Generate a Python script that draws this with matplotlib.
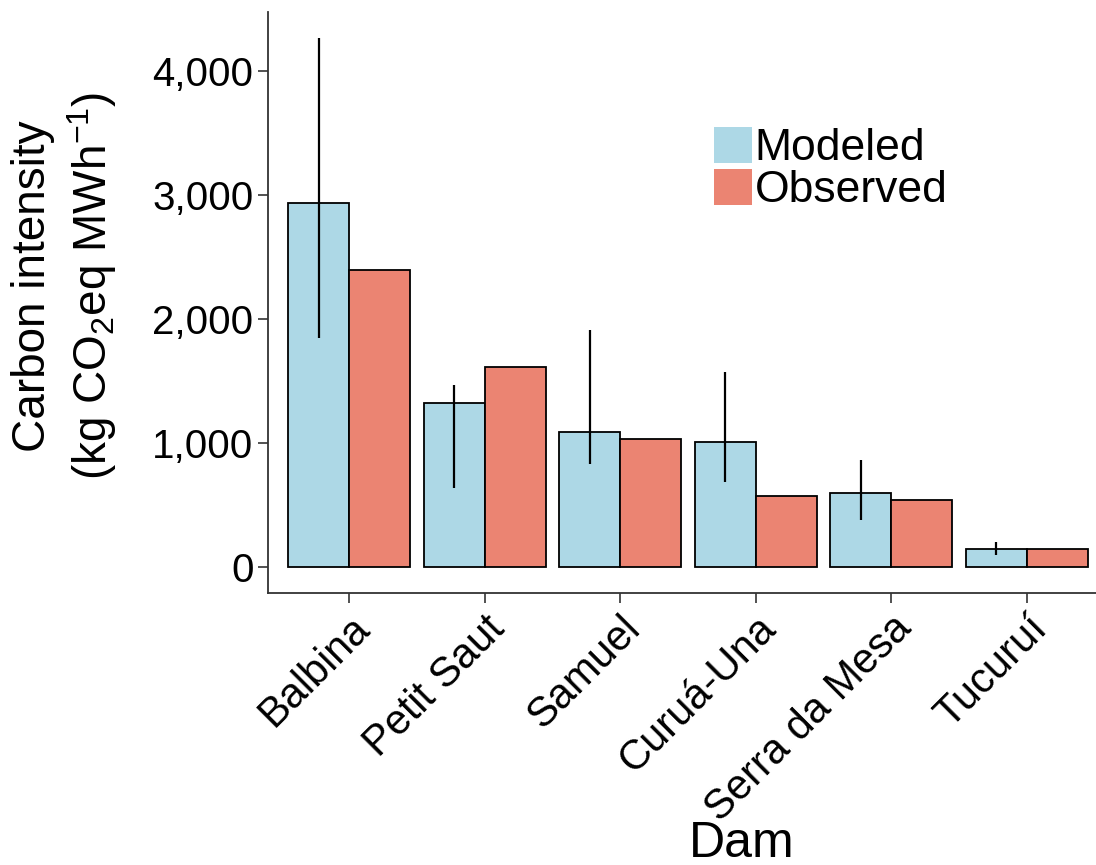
import numpy as np
import matplotlib
matplotlib.use("Agg")
import matplotlib.pyplot as plt
from matplotlib.patches import Patch
from matplotlib.ticker import FuncFormatter

plt.rcParams["font.family"] = ["Liberation Sans", "DejaVu Sans"]
plt.rcParams["mathtext.fontset"] = "custom"
plt.rcParams["mathtext.rm"] = "Liberation Sans"
plt.rcParams["mathtext.it"] = "Liberation Sans:italic"

# data
dams = ["Balbina", "Petit Saut", "Samuel", "Curuá-Una", "Serra da Mesa", "Tucuruí"]
modeled = [2934, 1316, 1085, 1006, 595, 139]
observed = [2389, 1611, 1031, 566, 536, 144]
err_low = [1845, 635, 829, 684, 377, 93]
err_high = [4260, 1461, 1905, 1569, 856, 198]

c_mod = "#ADD8E6"
c_obs = "#EB8472"

fig = plt.figure(figsize=(10.96, 8.65), dpi=100)
ax = fig.add_axes([268 / 1096, 1 - 593 / 865, 840 / 1096, 581 / 865])

x = np.arange(len(dams))
w = 0.45
ax.bar(x - w / 2, modeled, width=w, color=c_mod, edgecolor="black", linewidth=1.3)
ax.bar(x + w / 2, observed, width=w, color=c_obs, edgecolor="black", linewidth=1.3)
ax.vlines(x - w / 2, err_low, err_high, color="black", linewidth=1.6)

ax.set_xlim(-0.6, len(dams) - 0.4)
ax.set_ylim(-213, 4473)
ax.set_yticks([0, 1000, 2000, 3000, 4000])
ax.yaxis.set_major_formatter(FuncFormatter(lambda v, p: f"{int(v):,}"))
ax.set_xticks(x)
ax.set_xticklabels(dams, rotation=45, ha="right", rotation_mode="anchor")

for s in ["top", "right"]:
    ax.spines[s].set_visible(False)
for s in ["left", "bottom"]:
    ax.spines[s].set_linewidth(1.3)
    ax.spines[s].set_color("#333333")
ax.tick_params(axis="both", length=7, width=1.2, color="#333333",
               labelcolor="black")
ax.tick_params(axis="y", labelsize=29)
ax.tick_params(axis="x", labelsize=30, pad=4)

ax.set_ylabel("Carbon intensity\n(kg CO$_2$eq MWh$^{-1}$)", fontsize=33,
              linespacing=1.25)
ax.yaxis.set_label_coords(-0.177, 0.528)
ax.set_xlabel("Dam", fontsize=36)
ax.xaxis.set_label_coords(0.564, -0.392)

handles = [Patch(facecolor=c_mod, edgecolor="none", label="Modeled"),
           Patch(facecolor=c_obs, edgecolor="none", label="Observed")]
ax.legend(handles=handles, loc="upper left", bbox_to_anchor=(0.505, 0.84),
          frameon=False, fontsize=32, handlelength=0.85, handleheight=0.85,
          handletextpad=0.05, labelspacing=0.0, borderpad=0)

fig.savefig("out.png", dpi=100)
